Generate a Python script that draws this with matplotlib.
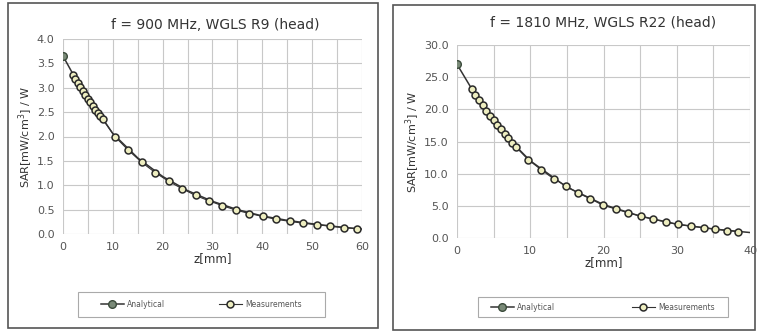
import matplotlib.pyplot as plt
from matplotlib.patches import Rectangle

# left panel: f = 900 MHz
z_an_900 = [0, 2, 4, 6, 8, 10, 15, 20, 25, 30, 35, 40, 45, 50, 55, 60]
sar_an_900 = [3.65, 3.28, 2.95, 2.64, 2.36, 2.06, 1.56, 1.18, 0.89, 0.67, 0.50, 0.37, 0.28, 0.21, 0.15, 0.10]
z_meas_900 = [2.0, 2.5, 3.0, 3.5, 4.0, 4.5, 5.0, 5.5, 6.0, 6.5, 7.0, 7.5, 8.0,
              10.4, 13.1, 15.8, 18.5, 21.2, 23.9, 26.6, 29.3, 32.0, 34.7, 37.4,
              40.1, 42.8, 45.5, 48.2, 50.9, 53.6, 56.3, 59.0]
sar_meas_900 = [3.27, 3.18, 3.09, 3.01, 2.93, 2.85, 2.77, 2.70, 2.62, 2.55, 2.48, 2.42, 2.35,
                2.00, 1.72, 1.47, 1.26, 1.08, 0.93, 0.79, 0.68, 0.58, 0.49, 0.42,
                0.36, 0.30, 0.26, 0.22, 0.19, 0.16, 0.13, 0.11]

# right panel: f = 1810 MHz
z_an_1810 = [0, 2, 4, 6, 8, 10, 15, 20, 25, 30, 35, 40]
sar_an_1810 = [27.0, 23.2, 19.9, 17.0, 14.3, 12.0, 7.9, 5.2, 3.4, 2.15, 1.4, 0.85]
z_meas_1810 = [2.0, 2.5, 3.0, 3.5, 4.0, 4.5, 5.0, 5.5, 6.0, 6.5, 7.0, 7.5, 8.0,
               9.7, 11.5, 13.2, 14.9, 16.5, 18.2, 19.9, 21.7, 23.4, 25.1, 26.8,
               28.5, 30.2, 31.9, 33.7, 35.2, 36.8, 38.4]
sar_meas_1810 = [23.1, 22.2, 21.4, 20.6, 19.8, 19.0, 18.3, 17.6, 16.9, 16.2, 15.5, 14.8, 14.2,
                 12.2, 10.6, 9.2, 8.1, 7.0, 6.1, 5.1, 4.5, 3.9, 3.4, 2.9,
                 2.5, 2.1, 1.85, 1.6, 1.4, 1.15, 1.0]

W, H = 757, 334
fig = plt.figure(figsize=(W / 100, H / 100), dpi=100)


def box(x0, y0, x1, y1, color, lw):
    # pixel box (top-left origin) drawn in figure coords
    fig.patches.append(Rectangle((x0 / W, 1 - y1 / H), (x1 - x0) / W, (y1 - y0) / H,
                                 transform=fig.transFigure, fill=False,
                                 edgecolor=color, lw=lw))


# panel frames
box(8, 3, 378, 328, '#555555', 1.2)
box(393, 5, 755, 330, '#555555', 1.2)


def panel(rect, z_an, s_an, z_m, s_m, xmax, xstep, ymax, ystep, title, title_x, title_y,
          ylab_x, leg_box, colsp):
    ax = fig.add_axes(rect)
    ax.plot(z_an, s_an, color='#333333', lw=1.1, marker='o', markersize=5.5,
            markerfacecolor='#7a8a78', markeredgecolor='#3a4a3a', markevery=[0],
            label='Analytical', zorder=3)
    ax.plot(z_m, s_m, color='#333333', lw=0.8, marker='o', markersize=5,
            markerfacecolor='#eeeec0', markeredgecolor='#2a2a2a', markeredgewidth=1.1,
            label='Measurements', zorder=4)
    ax.set_xlim(0, xmax)
    ax.set_ylim(0, ymax)
    ax.set_xticks([i * xstep for i in range(int(xmax / xstep) + 1)])
    ax.set_xticks([i * 5 for i in range(int(xmax / 5) + 1)], minor=True)
    n = int(round(ymax / ystep)) + 1
    ax.set_yticks([i * ystep for i in range(n)])
    ax.set_yticklabels(['%.1f' % (i * ystep) for i in range(n)])
    ax.grid(True, which='both', color='#c8c8c8', lw=0.8)
    ax.set_axisbelow(True)
    for s in ax.spines.values():
        s.set_visible(False)
    ax.tick_params(which='both', length=0, labelsize=8, labelcolor='#555555', pad=6)
    ax.set_xlabel('z[mm]', fontsize=8.5, color='#333333', labelpad=0)
    fig.text(ylab_x, rect[1] + rect[3] / 2, 'SAR[mW/cm$^3$] / W', rotation=90,
             fontsize=8, color='#333333', ha='center', va='center')
    fig.text(title_x, title_y, title, fontsize=10, color='#333333', ha='center', va='center')
    x0, y0, x1, y1 = leg_box
    box(x0, y0, x1, y1, '#aaaaaa', 0.8)
    h, l = ax.get_legend_handles_labels()
    fig.legend(h, l, loc='center', ncol=2,
               bbox_to_anchor=((x0 + x1) / 2 / W, 1 - (y0 + y1) / 2 / H),
               fontsize=5.5, frameon=False, handlelength=3, handletextpad=0.5,
               columnspacing=colsp, labelcolor='#555555')
    return ax


panel([63 / W, 1 - 234 / H, 299 / W, 195 / H], z_an_900, sar_an_900,
      z_meas_900, sar_meas_900, 60, 10, 4.0, 0.5, 'f = 900 MHz, WGLS R9 (head)',
      215 / W, 1 - 25 / H, 26 / W, (78, 292, 325, 317), 7)
panel([457 / W, 1 - 238 / H, 293 / W, 193 / H], z_an_1810, sar_an_1810,
      z_meas_1810, sar_meas_1810, 40, 10, 30.0, 5.0, 'f = 1810 MHz, WGLS R22 (head)',
      603 / W, 1 - 23 / H, 413 / W, (478, 297, 728, 317), 10)

fig.savefig('out.png', dpi=100)
